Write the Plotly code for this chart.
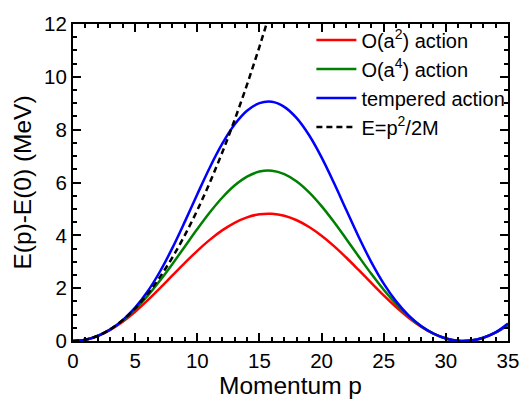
import plotly.graph_objects as go

# Momentum grid (read at integer p)
p = list(range(0, 36))

# O(a^2) action
e_a2 = [0.000, 0.048, 0.190, 0.421, 0.731, 1.108, 1.537, 2.000, 2.480, 2.958,
        3.413, 3.828, 4.187, 4.475, 4.681, 4.796, 4.816, 4.740, 4.571, 4.316,
        3.985, 3.592, 3.151, 2.680, 2.199, 1.726, 1.281, 0.880, 0.541, 0.276,
        0.096, 0.008, 0.016, 0.120, 0.315, 0.593]

# O(a^4) action
e_a4 = [0.000, 0.048, 0.194, 0.435, 0.771, 1.198, 1.707, 2.287, 2.918, 3.577,
        4.236, 4.862, 5.422, 5.884, 6.222, 6.413, 6.446, 6.320, 6.041, 5.628,
        5.105, 4.502, 3.853, 3.190, 2.544, 1.941, 1.400, 0.938, 0.563, 0.282,
        0.097, 0.008, 0.017, 0.121, 0.323, 0.620]

# tempered action
e_temp = [0.000, 0.048, 0.194, 0.439, 0.791, 1.265, 1.875, 2.631, 3.524, 4.518,
          5.555, 6.561, 7.460, 8.192, 8.715, 9.006, 9.057, 8.865, 8.437, 7.788,
          6.952, 5.982, 4.948, 3.928, 2.987, 2.173, 1.501, 0.973, 0.572, 0.284,
          0.097, 0.008, 0.017, 0.122, 0.325, 0.660]

# continuum E = p^2/2M
p_cont = list(range(0, 17))
e_cont = [0.000, 0.050, 0.198, 0.446, 0.792, 1.238, 1.782, 2.426, 3.168, 4.010,
          4.950, 5.990, 7.128, 8.366, 9.702, 11.138, 12.672]

names = ["O(a<sup>2</sup>) action", "O(a<sup>4</sup>) action", "tempered action", "E=p<sup>2</sup>/2M"]
colors = ["#FF0000", "#008000", "#0000FF", "#000000"]

FONT = "Arial, Liberation Sans, sans-serif"

fig = go.Figure()
for i, (ys, nm, c) in enumerate(zip([e_a2, e_a4, e_temp], names[:3], colors[:3])):
    fig.add_trace(go.Scatter(x=p, y=ys, mode="lines", name=nm, legendgroup=f"g{i}",
                             line=dict(color=c, width=2.5, shape="spline", smoothing=1.0)))
fig.add_trace(go.Scatter(x=p_cont, y=e_cont, mode="lines", name=names[3], legendgroup="g3",
                         line=dict(color=colors[3], width=2.5, dash="6px,4px", shape="spline")))

axis_common = dict(showgrid=False, zeroline=False, showline=True, linecolor="black",
                   linewidth=2, mirror="allticks", ticks="inside", ticklen=8, tickwidth=2,
                   tickcolor="black", tickfont=dict(family=FONT, size=20.5, color="black"))

fig.update_xaxes(range=[0, 35], tickvals=[0, 5, 10, 15, 20, 25, 30, 35],
                 minor=dict(ticks="inside", dtick=1, ticklen=4, tickwidth=1.5, tickcolor="black"),
                 title=dict(text="Momentum p", font=dict(family=FONT, size=24.5, color="black"), standoff=0),
                 **axis_common)
fig.update_yaxes(range=[0, 12], tickvals=[0, 2, 4, 6, 8, 10, 12],
                 minor=dict(ticks="inside", dtick=0.5, ticklen=4, tickwidth=1.5, tickcolor="black"),
                 title=dict(text="E(p)-E(0) (MeV)", font=dict(family=FONT, size=24.5, color="black"), standoff=6),
                 **axis_common)

fig.update_layout(
    width=531, height=401,
    margin=dict(l=73, r=20, t=17, b=53),
    plot_bgcolor="white", paper_bgcolor="white",
    legend=dict(x=0.548, y=1.011, xanchor="left", yanchor="top",
                font=dict(family=FONT, size=20, color="black"),
                bgcolor="rgba(0,0,0,0)", tracegroupgap=0, itemwidth=40),
    showlegend=True,
)

fig.write_html("out.html")
